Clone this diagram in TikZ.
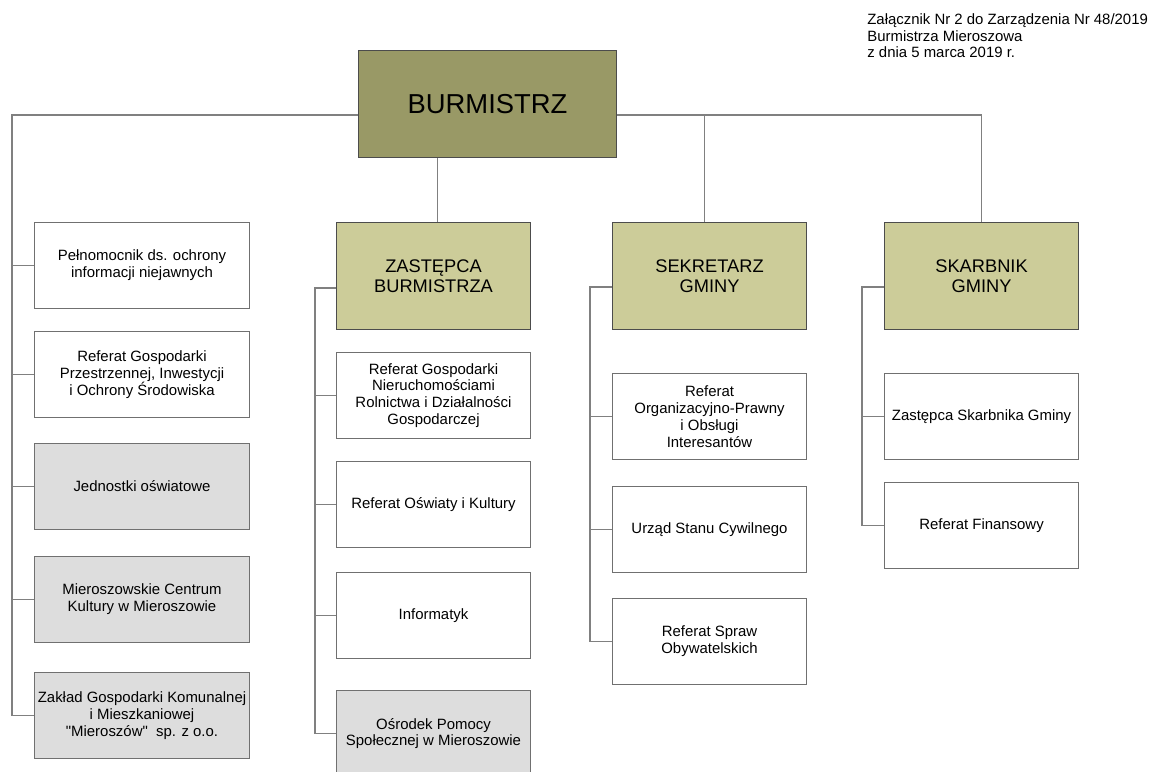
\documentclass[tikz,border=0pt]{standalone}
\usepackage{fontspec}
\setmainfont{Liberation Sans}

\definecolor{headfill}{HTML}{999966}
\definecolor{subfill}{HTML}{CCCC99}
\definecolor{unitfill}{HTML}{DDDDDD}
\definecolor{boxline}{HTML}{707070}
\definecolor{linkline}{HTML}{808080}

\tikzset{
  cell/.style={draw=boxline, line width=0.6pt, anchor=north west, inner sep=1pt,
    align=center, font=\fontsize{8.5}{9.6}\selectfont},
  widecell/.style={cell, minimum width=4.3cm, minimum height=1.72cm},
  narrowcell/.style={cell, minimum width=3.88cm, minimum height=1.72cm},
  chief/.style={cell, draw=black!70, fill=subfill, minimum width=3.88cm,
    minimum height=2.14cm, font=\fontsize{10.4}{11.4}\selectfont},
  mayor/.style={cell, draw=black!70, fill=headfill, minimum width=5.16cm,
    minimum height=2.14cm, font=\fontsize{15.6}{18}\selectfont},
  unit/.style={fill=unitfill},
  link/.style={draw=linkline, line width=0.6pt},
}

\begin{document}
\begin{tikzpicture}[x=0.02cm, y=-0.02cm]

            \useasboundingbox (0,0) rectangle (1152,771);

            \node (note) [anchor=north west, inner sep=0pt, align=left,
                font=\fontsize{8.5}{9.6}\selectfont] at (867,13)
                {Załącznik Nr 2 do Zarządzenia Nr 48/2019\\Burmistrza Mieroszowa\\z dnia 5 marca 2019 r.};

            \node (burm) [mayor] at (358,50) {BURMISTRZ};

            % left column
            \node (pelnom) [widecell] at (34,222) {Pełnomocnik ds. ochrony\\informacji niejawnych};
            \node (przestrz) [widecell] at (34,331) {Referat Gospodarki\\Przestrzennej, Inwestycji\\i Ochrony Środowiska};
            \node (oswiat) [widecell, unit] at (34,443) {Jednostki oświatowe};
            \node (centrum) [widecell, unit] at (34,556) {Mieroszowskie Centrum\\Kultury w Mieroszowie};
            \node (zaklad) [widecell, unit] at (34,672) {Zakład Gospodarki Komunalnej\\i Mieszkaniowej\\\textquotedbl Mieroszów\textquotedbl~ sp. z o.o.};

            % zastepca
            \node (zast) [chief] at (336,222) {ZASTĘPCA\\BURMISTRZA};
            \node (nieruch) [narrowcell] at (336,352) {Referat Gospodarki\\Nieruchomościami\\Rolnictwa i Działalności\\Gospodarczej};
            \node (kultura) [narrowcell] at (336,461) {Referat Oświaty i Kultury};
            \node (informatyk) [narrowcell] at (336,572) {Informatyk};
            \node (osrodek) [narrowcell, unit] at (336,690) {Ośrodek Pomocy\\Społecznej w Mieroszowie};

            % sekretarz
            \node (sekr) [chief] at (612,222) {SEKRETARZ\\GMINY};
            \node (organiz) [narrowcell] at (612,373) {Referat\\Organizacyjno-Prawny\\i Obsługi\\Interesantów};
            \node (usc) [narrowcell] at (612,486) {Urząd Stanu Cywilnego};
            \node (sprawy) [narrowcell] at (612,598) {Referat Spraw\\Obywatelskich};

            % skarbnik
            \node (skarb) [chief] at (884,222) {SKARBNIK\\GMINY};
            \node (zskarb) [narrowcell] at (884,373) {Zastępca Skarbnika Gminy};
            \node (finanse) [narrowcell] at (884,482) {Referat Finansowy};

            \coordinate (topbus) at (12,115);
            \coordinate (zbus) at (315,0);
            \coordinate (sbus) at (590,0);
            \coordinate (kbus) at (862,0);

            \draw [link] (burm.west |- topbus) -- (topbus) |- (zaklad.west);
            \foreach \n in {pelnom,przestrz,oswiat,centrum}
                \draw [link] (\n.west) -- (\n.west -| topbus);
            \draw [link] (burm.east |- topbus) -| (skarb.north);
            \draw [link] ([xshift=-0.1cm]sekr.north) -- ([xshift=-0.1cm]sekr.north |- topbus);
            \draw [link] ([xshift=0.08cm]zast.north |- burm.south) -- ([xshift=0.08cm]zast.north);

            \draw [link] ([yshift=-0.24cm]zast.west) -- ([yshift=-0.24cm]zast.west -| zbus) |- (osrodek.west);
            \foreach \n in {nieruch,kultura,informatyk}
                \draw [link] (\n.west) -- (\n.west -| zbus);

            \draw [link] ([yshift=-0.22cm]sekr.west) -- ([yshift=-0.22cm]sekr.west -| sbus) |- (sprawy.west);
            \foreach \n in {organiz,usc}
                \draw [link] (\n.west) -- (\n.west -| sbus);

            \draw [link] ([yshift=-0.22cm]skarb.west) -- ([yshift=-0.22cm]skarb.west -| kbus) |- (finanse.west);
            \draw [link] (zskarb.west) -- (zskarb.west -| kbus);

\end{tikzpicture}
\end{document}
